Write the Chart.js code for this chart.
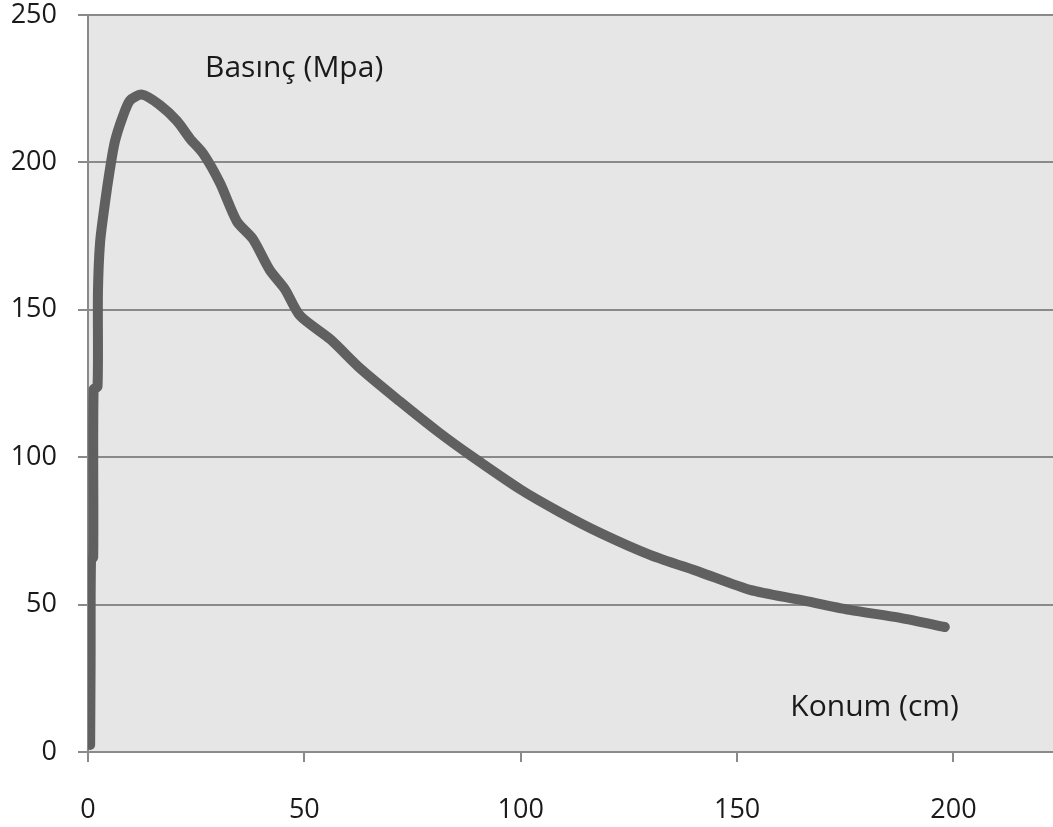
<!DOCTYPE html>
<html>
<head>
<meta charset="utf-8">
<script src="https://cdn.jsdelivr.net/npm/chart.js@4"></script>
<style>
html,body{margin:0;padding:0;background:#fff;}
#wrap{width:1053px;height:827px;position:relative;}
</style>
</head>
<body>
<div id="wrap"><canvas id="c" width="1053" height="827"></canvas></div>
<script>
const konum = [0.5, 0.6, 0.7, 1.2, 1.3, 2.2, 2.3, 2.8, 3.9, 5.1, 6.2, 7.9, 9.7, 12.5, 16.6, 20.6, 23.6, 26.6, 30.5, 34.4, 38.1, 42, 45.5, 49, 56, 63, 72, 81, 88.3, 100, 109, 118.4, 130, 141.5, 153, 164.6, 176, 187.7, 198];
const basinc = [2.4, 30, 65, 66, 123, 124, 156, 173, 186, 198, 207, 215, 221, 223, 219.5, 214, 208, 203, 193, 180, 174, 163.5, 157, 148, 140, 130, 119, 108.5, 100.7, 89, 81.4, 74.3, 66.8, 61, 55, 51.6, 48.2, 45.5, 42.4];
const xTicks = [0, 50, 100, 150, 200];
const yTicks = [0, 50, 100, 150, 200, 250];
const seriesLabel = 'Basınç (Mpa)';
const axisLabel = 'Konum (cm)';
const seriesLabelPos = [27.05, 229];
const axisLabelPos = [162.3, 12.2];

const points = konum.map((x, i) => ({x: x, y: basinc[i]}));
const FONT = '"Open Sans", "Liberation Sans", sans-serif';

const bgPlugin = {
  id: 'bg',
  beforeDraw(chart) {
    const a = chart.chartArea, ctx = chart.ctx;
    ctx.save();
    ctx.fillStyle = '#e6e6e6';
    ctx.fillRect(a.left, a.top, a.right - a.left, a.bottom - a.top);
    ctx.restore();
  },
  afterDatasetsDraw(chart) {
    const ctx = chart.ctx, xs = chart.scales.x, ys = chart.scales.y;
    ctx.save();
    ctx.fillStyle = '#1a1a1a';
    ctx.font = '30px ' + FONT;
    ctx.textAlign = 'left';
    ctx.textBaseline = 'alphabetic';
    ctx.fillText(seriesLabel, xs.getPixelForValue(seriesLabelPos[0]), ys.getPixelForValue(seriesLabelPos[1]));
    ctx.fillText(axisLabel, xs.getPixelForValue(axisLabelPos[0]), ys.getPixelForValue(axisLabelPos[1]));
    ctx.restore();
  }
};

new Chart(document.getElementById('c'), {
  type: 'scatter',
  data: {
    datasets: [{
      data: points,
      showLine: true,
      borderColor: '#606060',
      borderWidth: 10,
      pointRadius: 0,
      tension: 0.25,
      borderCapStyle: 'round',
      borderJoinStyle: 'round',
      fill: false
    }]
  },
  options: {
    responsive: false,
    animation: false,
    layout: {padding: {top: 15, right: 0, left: 0, bottom: 0}},
    plugins: {legend: {display: false}, tooltip: {enabled: false}},
    scales: {
      x: {
        type: 'linear',
        min: 0,
        max: 223,
        afterBuildTicks(s) { s.ticks = xTicks.map(v => ({value: v})); },
        afterFit(s) { s.height = 75; s.paddingLeft = 0; s.paddingRight = 0; },
        border: {color: '#8a8a8a', width: 2},
        grid: {drawOnChartArea: false, drawTicks: true, tickLength: 10, color: '#8a8a8a', lineWidth: 2},
        ticks: {color: '#1a1a1a', font: {family: FONT, size: 27}, padding: 32, maxRotation: 0}
      },
      y: {
        type: 'linear',
        min: 0,
        max: 250,
        afterBuildTicks(s) { s.ticks = yTicks.map(v => ({value: v})); },
        afterFit(s) { s.width = 88; s.paddingTop = 0; s.paddingBottom = 0; },
        border: {color: '#8a8a8a', width: 2},
        grid: {drawTicks: true, tickLength: 10, color: '#8a8a8a', lineWidth: 2},
        ticks: {color: '#1a1a1a', font: {family: FONT, size: 27}, padding: 21}
      }
    }
  },
  plugins: [bgPlugin]
});
</script>
</body>
</html>
